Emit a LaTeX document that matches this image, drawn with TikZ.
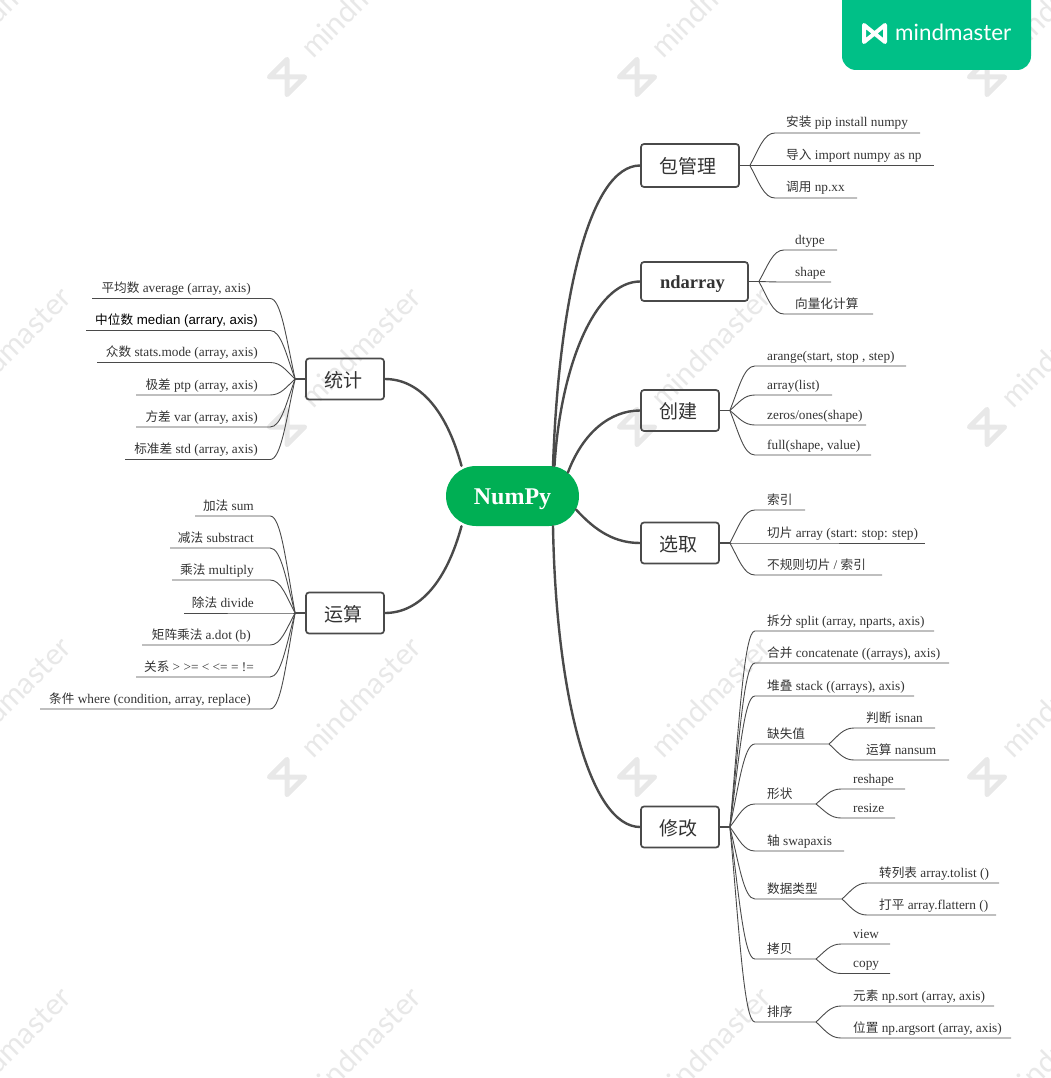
\documentclass[tikz,border=0pt]{standalone}
\usepackage{fontspec}
\setmainfont{Liberation Serif}
\setsansfont{Liberation Sans}
\newfontfamily\cjk[Scale=0.95]{Noto Sans CJK SC}
\newfontfamily\markfont{Lato}
\usepackage{xcolor}
\usetikzlibrary{calc,shapes.misc}

\definecolor{inkgray}{HTML}{4A4A4A}
\definecolor{coregreen}{HTML}{00AF54}
\definecolor{badgegreen}{HTML}{00C087}
\definecolor{markgray}{HTML}{E8E8E8}

\newcommand{\zh}[1]{{\cjk #1}}

\tikzset{
  bowtie/.pic={\draw[pic actions,line join=round,line cap=round] (-1,1) -- (-1,-1) -- (1,1) -- (1,-1) -- cycle;},
  core/.style={rounded rectangle,fill=coregreen,text=white,minimum width=133pt,minimum height=60pt,inner sep=0pt,text height=22pt,text depth=5pt,font=\fontsize{24}{28}\selectfont\bfseries},
  branch/.style={draw=inkgray,line width=1.7pt,rounded corners=3pt,minimum height=41pt,inner sep=0pt,text height=19pt,text depth=3pt,text=black!80,execute at begin node=\kern-4pt,font=\fontsize{20}{23}\selectfont},
  limb/.style={draw=inkgray,line width=2.4pt,line cap=round},
  stub/.style={draw=inkgray,line width=1.5pt},
  twigline/.style={draw=inkgray,line width=0.9pt},
  leaf/.style={inner sep=0pt,text=black!80,font=\fontsize{13.3}{15}\selectfont},
  leaf 1/.style={leaf,anchor=base west},
  leaf -1/.style={leaf,anchor=base east}
}

% name, hub, side, y of the rule, x of the text, far x of the rule, text
\newcommand{\twig}[7]{%
  \coordinate (#1-a) at ($(#2 |- 0,#4)+(#3*25,0)$);
  \coordinate (#1-b) at (#6,#4);
  \node[leaf #3] (#1) at (#5,#4-6) {#7};
  \draw[twigline] (#2) .. controls ($(#2)!.5!(#2 |- #1-a)+(#3*9,0)$) and ($(#1-a)+(#3*-11,0)$) .. (#1-a) -- (#1-b);
}

\begin{document}
\begin{tikzpicture}[x=1pt,y=-1pt]
  \useasboundingbox (0,0) rectangle (1051,1078);

  % watermark -----------------------------------------------------------------
  \foreach \wx in {-63,287,637,987}
    \foreach \wy in {77,427,777,1127} {
      \pic[draw=markgray,line width=5pt,scale=12.5,rotate=-45] at (\wx,\wy) {bowtie};
      \node[anchor=base west,rotate=45,inner sep=0pt,text=markgray,font=\markfont\fontsize{30}{30}\selectfont] (wm-\wx-\wy) at (\wx+26,\wy-17) {mindmaster};
    }

  % badge ---------------------------------------------------------------------
  \fill[badgegreen,rounded corners=14pt] (842,-20) rectangle (1031,70);
  \pic[draw=white,line width=4pt,xscale=10.5,yscale=8.5] at (874.5,33.5) {bowtie};
  \node[anchor=base west,inner sep=0pt,text=white,font=\markfont\fontsize{22.4}{28}\selectfont] (brand) at (895,41) {mindmaster};

  % centre and branches -------------------------------------------------------
  \node[core] (numpy) at (512.5,496) {NumPy};

  \node[branch,minimum width=98pt,minimum height=43pt] (pkg) at (690,165.5) {\zh{包管理}};
  \node[branch,minimum width=107pt,minimum height=39pt,text height=17pt,font=\fontsize{18.5}{22}\selectfont\bfseries] (ndarr) at (694.5,281.5) {ndarray};
  \node[branch,minimum width=78pt] (make) at (680,410.5) {\zh{创建}};
  \node[branch,minimum width=78pt] (pick) at (680,543) {\zh{选取}};
  \node[branch,minimum width=78pt] (edit) at (680,827) {\zh{修改}};
  \node[branch,minimum width=78pt] (stat) at (345,379) {\zh{统计}};
  \node[branch,minimum width=78pt] (calc) at (345,613) {\zh{运算}};

  \draw[limb] ([xshift=40.5pt]numpy.north) .. controls +(6,-170) and +(-50,0) .. (pkg.west);
  \draw[limb] ([xshift=42pt]numpy.north) .. controls +(6,-100) and +(-45,0) .. (ndarr.west);
  \draw[limb] (numpy.23) .. controls +(15,-40) and +(-30,0) .. (make.west);
  \draw[limb] (numpy.-12) .. controls +(20,22) and +(-25,0) .. (pick.west);
  \draw[limb] ([xshift=40.5pt]numpy.south) .. controls +(3,170) and +(-50,0) .. (edit.west);
  \draw[limb] ([xshift=-51pt]numpy.north) .. controls +(-15,-55) and +(35,0) .. (stat.east);
  \draw[limb] ([xshift=-51pt]numpy.south) .. controls +(-15,55) and +(35,0) .. (calc.east);

  %  pkg  ---------------------------------------------------------------------
  \coordinate (pkg-hub) at ([xshift=10pt]pkg.east);
  \draw[stub] (pkg) -- (pkg-hub);
  \twig{install}{pkg-hub}{1}{133}{786}{920}{\zh{安装} pip install numpy}
  \twig{import}{pkg-hub}{1}{165.5}{786}{934}{\zh{导入} import numpy as np}
  \twig{usage}{pkg-hub}{1}{198}{786}{857}{\zh{调用} np.xx}

  %  ndarray  -----------------------------------------------------------------
  \coordinate (ndarr-hub) at ([xshift=10pt]ndarr.east);
  \draw[stub] (ndarr) -- (ndarr-hub);
  \twig{dtype}{ndarr-hub}{1}{250}{795}{837}{dtype}
  \twig{shape}{ndarr-hub}{1}{282}{795}{831}{shape}
  \twig{vector}{ndarr-hub}{1}{314}{795}{873}{\zh{向量化计算}}

  %  make  --------------------------------------------------------------------
  \coordinate (make-hub) at ([xshift=10pt]make.east);
  \draw[stub] (make) -- (make-hub);
  \twig{arange}{make-hub}{1}{366}{767}{906}{arange(start, stop , step)}
  \twig{array}{make-hub}{1}{395}{767}{832}{array(list)}
  \twig{zeros}{make-hub}{1}{425}{767}{866}{zeros/ones(shape)}
  \twig{full}{make-hub}{1}{455}{767}{871}{full(shape, value)}

  %  pick  --------------------------------------------------------------------
  \coordinate (pick-hub) at ([xshift=10pt]pick.east);
  \draw[stub] (pick) -- (pick-hub);
  \twig{index}{pick-hub}{1}{510}{767}{805}{\zh{索引}}
  \twig{slice}{pick-hub}{1}{543}{767}{925}{\zh{切片} array (start: stop: step)}
  \twig{fancy}{pick-hub}{1}{575}{767}{882}{\zh{不规则切片} / \zh{索引}}

  %  edit  --------------------------------------------------------------------
  \coordinate (edit-hub) at ([xshift=10pt]edit.east);
  \draw[stub] (edit) -- (edit-hub);
  \twig{split}{edit-hub}{1}{631}{767}{934}{\zh{拆分} split (array, nparts, axis)}
  \twig{concat}{edit-hub}{1}{663}{767}{949}{\zh{合并} concatenate ((arrays), axis)}
  \twig{stack}{edit-hub}{1}{696}{767}{914}{\zh{堆叠} stack ((arrays), axis)}
  \twig{miss}{edit-hub}{1}{744}{767}{829}{\zh{缺失值}}
  \twig{form}{edit-hub}{1}{804}{767}{816}{\zh{形状}}
  \twig{swap}{edit-hub}{1}{851}{767}{844}{\zh{轴} swapaxis}
  \twig{kind}{edit-hub}{1}{899}{767}{842}{\zh{数据类型}}
  \twig{clone}{edit-hub}{1}{959}{767}{816}{\zh{拷贝}}
  \twig{order}{edit-hub}{1}{1022}{767}{816}{\zh{排序}}

  \twig{isnan}{miss-b}{1}{728}{866}{935}{\zh{判断} isnan}
  \twig{nansum}{miss-b}{1}{760}{866}{949}{\zh{运算} nansum}
  \twig{reshape}{form-b}{1}{789}{853}{905}{reshape}
  \twig{resize}{form-b}{1}{818}{853}{895}{resize}
  \twig{tolist}{kind-b}{1}{883}{879}{999}{\zh{转列表} array.tolist ()}
  \twig{flatten}{kind-b}{1}{915}{879}{996}{\zh{打平} array.flattern ()}
  \twig{view}{clone-b}{1}{944}{853}{890}{view}
  \twig{copy}{clone-b}{1}{973.5}{853}{890}{copy}
  \twig{sort}{order-b}{1}{1006}{853}{994}{\zh{元素} np.sort (array, axis)}
  \twig{argsort}{order-b}{1}{1038}{853}{1011}{\zh{位置} np.argsort (array, axis)}

  %  stat  --------------------------------------------------------------------
  \coordinate (stat-hub) at ([xshift=-10pt]stat.west);
  \draw[stub] (stat) -- (stat-hub);
  \twig{mean}{stat-hub}{-1}{298.5}{251}{92}{\zh{平均数} average (array, axis)}
  \twig{median}{stat-hub}{-1}{330.5}{258}{86}{\textcolor{black}{\sffamily\zh{中位数} median (arrary, axis)}}
  \twig{mode}{stat-hub}{-1}{362.5}{258}{97}{\zh{众数} stats.mode (array, axis)}
  \twig{ptp}{stat-hub}{-1}{395}{258}{136}{\zh{极差} ptp (array, axis)}
  \twig{var}{stat-hub}{-1}{427}{258}{136}{\zh{方差} var (array, axis)}
  \twig{std}{stat-hub}{-1}{459.5}{258}{125}{\zh{标准差} std (array, axis)}

  %  calc  --------------------------------------------------------------------
  \coordinate (calc-hub) at ([xshift=-10pt]calc.west);
  \draw[stub] (calc) -- (calc-hub);
  \twig{sum}{calc-hub}{-1}{516}{254}{195}{\zh{加法} sum}
  \twig{sub}{calc-hub}{-1}{548}{254}{170}{\zh{减法} substract}
  \twig{mul}{calc-hub}{-1}{580}{254}{172}{\zh{乘法} multiply}
  \twig{div}{calc-hub}{-1}{613}{254}{184}{\zh{除法} divide}
  \twig{dot}{calc-hub}{-1}{645}{251}{142}{\zh{矩阵乘法} a.dot (b)}
  \twig{rel}{calc-hub}{-1}{677}{254}{136}{\zh{关系} > >= < <= = !=}
  \twig{where}{calc-hub}{-1}{709}{251}{40}{\zh{条件} where (condition, array, replace)}
\end{tikzpicture}
\end{document}
